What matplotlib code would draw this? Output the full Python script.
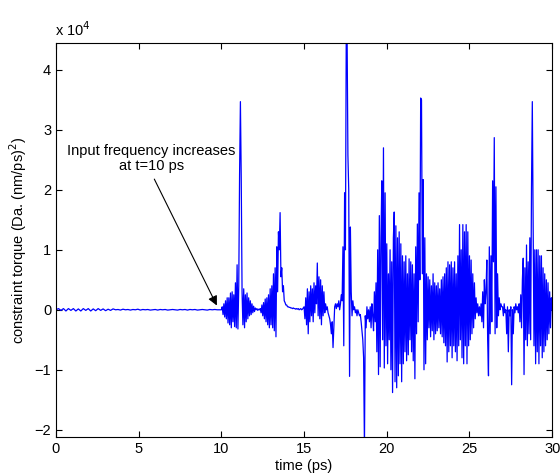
import matplotlib
matplotlib.use("Agg")
import matplotlib.pyplot as plt
import numpy as np

plt.rcParams['font.family'] = ['Liberation Sans', 'DejaVu Sans']

# values in units of 1e4 Da.(nm/ps)^2
# quiet part before the input frequency change, one value every 0.15 ps
quiet_start, quiet_dt = 0.0, 0.15
quiet_v = [0.0, 0.02, -0.01, 0.02, -0.02, 0.02, -0.01, 0.02, -0.02, 0.015,
           -0.02, 0.02, -0.01, 0.02, -0.02, 0.015, -0.015, 0.02, -0.01, 0.015,
           -0.015, 0.01, -0.01, 0.015, 0.0, 0.005, -0.005, 0.01, 0.0, 0.005,
           -0.005, 0.005, 0.0, 0.01, -0.005, 0.005, 0.0, 0.005, -0.005, 0.0,
           0.005, -0.005, 0.005, 0.0, 0.005, -0.005, 0.0, 0.005, 0.0, -0.005,
           0.005, 0.0, 0.005, -0.005, 0.005, 0.0, 0.005, -0.005, 0.0, 0.005,
           0.0, -0.005, 0.005, 0.0, 0.005, 0.0, 0.0]

# bursts after t=10 ps, one value every 0.05 ps (each row is 0.5 ps)
burst_dt = 0.05
burst1_start = 10.0
burst1_v = [0.0, 0.05, -0.08, 0.1, -0.12, 0.15, -0.15, 0.2, -0.22, 0.2,
            -0.25, 0.28, -0.3, 0.3, -0.2, 0.25, -0.28, 0.45, -0.3, 0.75,
            -0.32, 0.4, 2.25, 3.47, 2.2, 0.3, -0.25, 0.35, -0.3, 0.25,
            -0.2, 0.28, -0.15, 0.2, -0.1, 0.15, -0.08, 0.1, -0.05, 0.06,
            -0.03, 0.03, 0.0, 0.02, -0.01, 0.01, 0.0, 0.02, -0.05, 0.08,
            -0.1, 0.12, -0.15, 0.18, -0.2, 0.2, -0.25, 0.25, -0.3, 0.35,
            -0.25, 0.4, -0.3, 0.6, -0.35, 0.7, -0.45, 1.05, 0.3, 1.3,
            1.0, 1.62, 0.55, 0.7, 0.3, 0.4, 0.15, 0.12, 0.08, 0.08,
            0.05, 0.05, 0.04, 0.04, 0.03, 0.03, 0.02, 0.03, 0.02, 0.02,
            0.01, 0.02, 0.01, 0.02, 0.0, 0.01, 0.02, 0.0, 0.01, 0.03]

burst2_start = 15.0
burst2_v = [0.05, -0.15, 0.2, -0.25, 0.35, -0.4, 0.3, -0.2, 0.4, -0.1,
            0.35, -0.2, 0.45, -0.05, 0.4, 0.1, 0.78, -0.1, 0.55, -0.15,
            0.5, -0.25, 0.4, -0.1, 0.3, -0.05, 0.1, 0.0, 0.05, -0.05,
            -0.1, -0.15, -0.25, -0.4, -0.2, -0.63, -0.3, 0.05, 0.1, 0.02,
            0.1, 0.05, 0.15, 0.0, 0.1, 0.25, 0.15, 1.05, -0.6, 1.95,
            1.0, 4.6, 4.6, 2.58, 2.0, -1.11, 1.38, 0.3, -0.1, 0.15,
            0.0, 0.05, -0.05, 0.0, -0.1, 0.0, -0.05, -0.1, -0.08, -0.2,
            -0.35, -0.5, -0.8, -2.3, -0.1, -0.3, 0.05, -0.15, 0.0, -0.2,
            0.05, -0.3, 0.1, -0.1, -0.35, 0.3, -0.2, 0.45, -0.7, 1.0,
            -1.08, 1.57, -0.95, 1.2, 2.15, -0.5, 2.7, -0.97, 1.95, -0.6]

burst3_start = 20.0
burst3_v = [1.1, -0.9, 0.6, -0.5, 1.0, -1.0, 0.8, -1.38, 1.2, 1.63,
            -1.2, 1.4, -1.3, 1.2, -1.1, 1.3, -0.9, 1.1, -1.2, 0.9,
            -0.9, 0.8, -0.7, 0.9, -0.85, 0.6, -0.75, 0.85, -0.5, 0.8,
            -0.7, 0.75, -0.85, 0.6, -1.15, 1.05, -0.4, 1.43, -0.2, 1.95,
            0.5, 3.53, 3.5, 0.6, 2.17, -1.0, 1.2, -0.9, 0.6, -0.5,
            0.55, -0.3, 0.5, -0.45, 0.4, -0.35, 0.6, -0.5, 0.45, -0.4,
            0.4, -0.35, 0.45, -0.3, 0.35, -0.4, 0.5, -0.45, 0.55, -0.55,
            0.6, -0.6, 0.7, -0.87, 0.8, -0.7, 0.75, -0.6, 0.8, -0.8,
            0.7, -0.6, 0.8, -0.7, 0.6, -0.85, 0.9, -0.6, 1.42, -0.5,
            1.0, -0.8, 1.42, -0.9, 1.3, -0.6, 1.42, -0.9, 1.3, -0.6,
            0.9, -0.5, 0.83, -0.4, 0.6, -0.3, 0.45, -0.15, 0.2, -0.05]

burst4_start = 25.5
burst4_v = [0.1, -0.1, 0.05, -0.1, 0.1, -0.2, 0.3, -0.3, 0.5, 0.1,
            0.3, 0.83, -0.5, -1.1, 1.05, -0.4, 0.9, -0.2, 2.15, 0.8,
            2.87, -0.4, 2.05, -0.3, 0.6, -0.1, 0.2, 0.0, 0.1, 0.05,
            0.05, -0.1, 0.1, -0.05, 0.0, -0.4, 0.05, -0.7, 0.0, -0.1,
            0.05, -1.25, 0.0, -0.4, 0.05, -0.05, 0.1, 0.0, 0.05, -0.05,
            0.1, -0.2, 0.25, -0.3, 0.5, 0.86, -1.08, 0.7, -0.5, 1.08,
            -0.6, 0.8, -0.4, 1.2, -0.5, 2.03, 3.47, 1.47, -0.6, 1.0,
            -0.9, 1.0, -0.7, 1.0, -0.9, 0.9, -0.6, 0.9, -0.8, 0.7,
            -0.7, 0.6, -0.6, 0.5, -0.5, 0.45, -0.4, 0.3, -0.3, 0.2,
            0.0]


def sample_times(start, dt, values):
    return start + dt * np.arange(len(values))


t = np.concatenate([sample_times(quiet_start, quiet_dt, quiet_v),
                    sample_times(burst1_start, burst_dt, burst1_v),
                    sample_times(burst2_start, burst_dt, burst2_v),
                    sample_times(burst3_start, burst_dt, burst3_v),
                    sample_times(burst4_start, burst_dt, burst4_v)])
v = np.concatenate([quiet_v, burst1_v, burst2_v, burst3_v, burst4_v])

fig = plt.figure(figsize=(5.6, 4.76), dpi=100)
ax = fig.add_axes([0.1, 0.082, 0.886, 0.828])
ax.plot(t, v, color='#0000ff', lw=0.9)

ax.set_xlim(0, 30)
ax.set_ylim(-2.12, 4.45)
ax.set_xticks([0, 5, 10, 15, 20, 25, 30])
ax.set_yticks([-2, -1, 0, 1, 2, 3, 4])
ax.tick_params(direction='in', top=True, right=True, length=4, labelsize=10.5)
for s in ax.spines.values():
    s.set_linewidth(0.8)

ax.set_xlabel('time (ps)', fontsize=10.5, labelpad=2)
ax.set_ylabel('constraint torque (Da. (nm/ps)$^2$)', fontsize=10.5, labelpad=4)
fig.text(0.098, 0.918, 'x 10$^4$', fontsize=10.5, ha='left', va='bottom')

ax.text(5.78, 2.52, 'Input frequency increases\nat t=10 ps', ha='center', va='center',
        fontsize=10.5, linespacing=1.1)
ax.annotate('', xy=(9.8, 0.03), xytext=(5.87, 2.22),
            arrowprops=dict(arrowstyle='-|>', color='k', lw=0.8, mutation_scale=14))

fig.savefig('out.png', dpi=100)
